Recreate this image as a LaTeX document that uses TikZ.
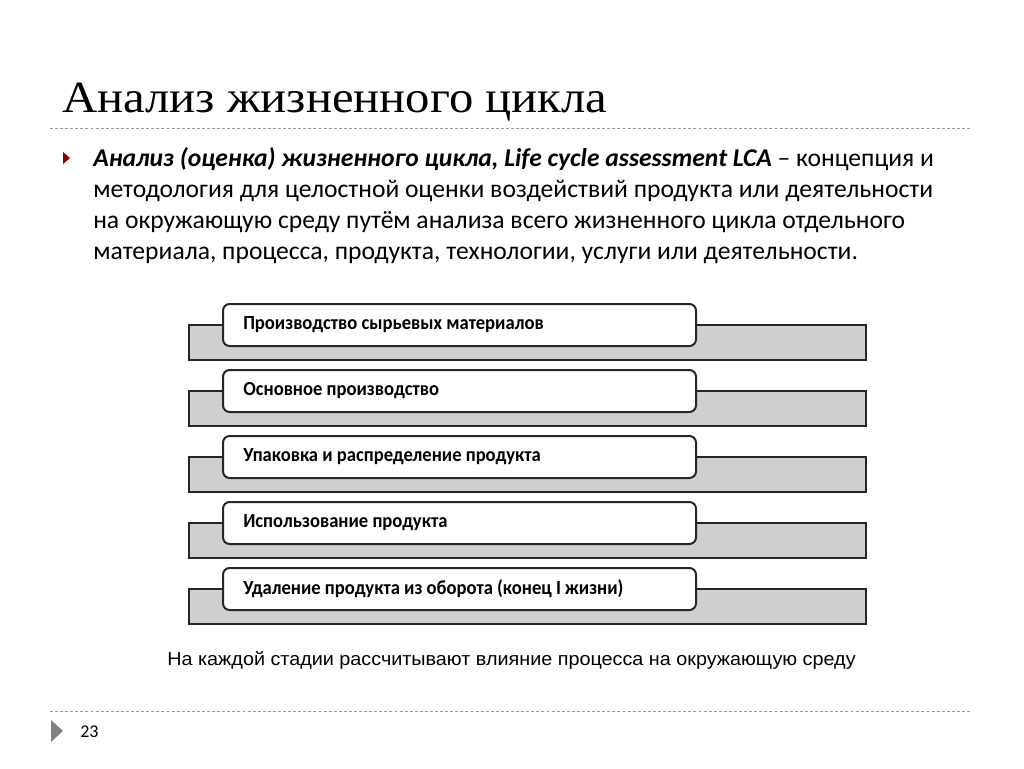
\documentclass[tikz,border=0pt]{standalone}
\usepackage{fontspec}
\setmainfont{Carlito}
\newfontfamily\titlefont[FakeStretch=1.09]{Liberation Serif}
\newfontfamily\capfont[FakeStretch=1.06]{Liberation Sans}
\newfontfamily\stagefont[FakeStretch=0.93]{Carlito}
\begin{document}
\begin{tikzpicture}[x=0.75pt,y=-0.75pt,
  bar/.style={draw=black!85,line width=1.5pt,fill=black!19},
  stage/.style={draw=black!85,line width=1.5pt,fill=white,rounded corners=5pt},
  stagelabel/.style={anchor=west,inner sep=0pt,font=\stagefont\fontsize{15}{17}\selectfont\bfseries},
  sep/.style={draw=black!40,line width=0.75pt,dash pattern=on 2.2pt off 1.6pt},
  body/.style={anchor=base west,inner sep=0pt,font=\fontsize{19.2}{23}\selectfont}]
\useasboundingbox[fill=white] (0,0) rectangle (1024,768);
% title
\node[anchor=base west,inner sep=0pt,font=\titlefont\fontsize{33.5}{38}\selectfont] (title) at (62,112) {Анализ жизненного цикла};
\path[sep] (50,128) coordinate (s1) -- (972,128) coordinate (s2);
% bullet
\fill[red!55!black] (63,152) -- (70,158) -- (63,164) -- cycle;
\node[body] (l1) at (93,166) {\textbf{\itshape Анализ (оценка) жизненного цикла, Life cycle assessment LCA} – концепция и};
\node[body] (l2) at (93,197) {методология для целостной оценки воздействий продукта или деятельности};
\node[body] (l3) at (93,228) {на окружающую среду путём анализа всего жизненного цикла отдельного};
\node[body] (l4) at (93,259) {материала, процесса, продукта, технологии, услуги или деятельности.};
% stages
\foreach \i/\t in {0/Производство сырьевых материалов,1/Основное производство,2/Упаковка и распределение продукта,3/Использование продукта,4/Удаление продукта из оборота (конец I жизни)}{
  \pgfmathsetmacro{\dy}{66*\i}
  \draw[bar] (189,325+\dy) rectangle (866,360+\dy);
  \draw[stage] (223,304+\dy) rectangle (696,346+\dy);
  \node[stagelabel] (st\i) at (243,325+\dy) {\t};
}
\node[anchor=center,inner sep=0pt,font=\capfont\fontsize{14}{17}\selectfont] (cap) at (511.5,660) {На каждой стадии рассчитывают влияние процесса на окружающую среду};
% footer
\path[sep] (50,711) coordinate (f1) -- (972,711) coordinate (f2);
\fill[black!50] (51,720) -- (63,731) -- (51,742) -- cycle;
\node[anchor=base west,inner sep=0pt,font=\fontsize{13.5}{16}\selectfont] (pg) at (80,737) {23};
\end{tikzpicture}
\end{document}
